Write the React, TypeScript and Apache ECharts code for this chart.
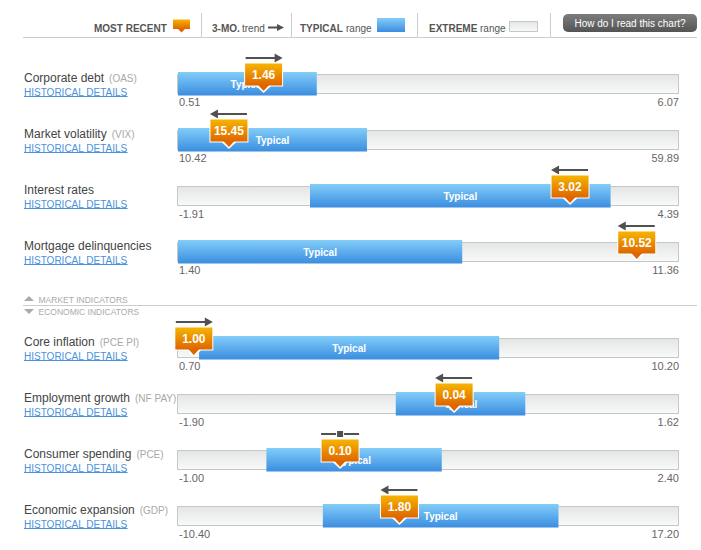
import React, { useEffect, useRef } from 'react';
import * as echarts from 'echarts';

const indicators = ['Corporate debt', 'Market volatility', 'Interest rates', 'Mortgage delinquencies', 'Core inflation', 'Employment growth', 'Consumer spending', 'Economic expansion'];
const codes = ['OAS', 'VIX', '', '', 'PCE PI', 'NF PAY', 'PCE', 'GDP'];
const extremeMin = [0.51, 10.42, -1.91, 1.40, 0.70, -1.90, -1.00, -10.40];
const extremeMax = [6.07, 59.89, 4.39, 11.36, 10.20, 1.62, 2.40, 17.20];
const typicalLow = [0.51, 10.42, -0.25, 1.40, 1.10, -0.37, -0.40, -2.42];
const typicalHigh = [2.05, 29.08, 3.53, 7.05, 6.79, 0.54, 0.79, 10.56];
const mostRecent = [1.46, 15.45, 3.02, 10.52, 1.00, 0.04, 0.10, 1.80];
const trend = ['up', 'down', 'down', 'down', 'up', 'down', 'flat', 'down'];
const sectionLabels = ['MARKET INDICATORS', 'ECONOMIC INDICATORS'];
const legendLabels = ['MOST RECENT', '3-MO.', 'trend', 'TYPICAL', 'range', 'EXTREME', 'range'];
const helpLabel = 'How do I read this chart?';
const linkLabel = 'HISTORICAL DETAILS';

const FONT = 'Arial, "Liberation Sans", Helvetica, sans-serif';
const rowTops = [72, 128, 184, 240, 336, 392, 448, 504];

const blueGrad = () => new echarts.graphic.LinearGradient(0, 0, 0, 1, [
  { offset: 0, color: '#82cdf8' },
  { offset: 1, color: '#3b8de0' },
]);
const greyGrad = () => new echarts.graphic.LinearGradient(0, 0, 0, 1, [
  { offset: 0, color: '#e4e5e5' },
  { offset: 0.5, color: '#eeefef' },
  { offset: 1, color: '#f8f9f9' },
]);
const orangeGrad = () => new echarts.graphic.LinearGradient(0, 0, 0, 1, [
  { offset: 0, color: '#f7b400' },
  { offset: 1, color: '#de6600' },
]);

function measure(text: string, font: string): number {
  const c = document.createElement('canvas').getContext('2d');
  if (!c) return text.length * 6;
  c.font = font;
  return c.measureText(text).width;
}

function makeRender(i: number) {
  return (params: any, api: any) => {
    const cs = params.coordSys;
    const top = cs.y;
    const lo = api.value(0);
    const hi = api.value(1);
    const rec = api.value(2);
    const mn = api.value(3);
    const mx = api.value(4);
    const xMin = api.coord([mn, 0])[0];
    const xMax = api.coord([mx, 0])[0];
    const xLo = api.coord([lo, 0])[0];
    const xHi = api.coord([hi, 0])[0];
    const xr = api.coord([rec, 0])[0];
    const children: any[] = [];
    children.push({
      type: 'rect',
      shape: { x: xMin - 0.5, y: top + 2.5, width: xMax - xMin, height: 19 },
      style: { fill: greyGrad(), stroke: '#c5c7c7', lineWidth: 1 },
    });
    children.push({
      type: 'rect',
      shape: { x: xLo, y: top, width: xHi - xLo, height: 23.5 },
      style: { fill: blueGrad() },
    });
    children.push({
      type: 'text',
      style: {
        text: 'Typical', x: (xLo + xHi) / 2, y: top + 12, align: 'center', verticalAlign: 'middle',
        fill: '#ffffff', fontSize: 10, fontWeight: 'bold', fontFamily: FONT,
      },
    });
    children.push({
      type: 'text',
      style: {
        text: mn.toFixed(2), x: xMin + 1, y: top + 30, align: 'left', verticalAlign: 'middle',
        fill: '#666666', fontSize: 11, fontFamily: FONT,
      },
    });
    children.push({
      type: 'text',
      style: {
        text: mx.toFixed(2), x: xMax, y: top + 30, align: 'right', verticalAlign: 'middle',
        fill: '#666666', fontSize: 11, fontFamily: FONT,
      },
    });
    // trend glyph
    const ay = top - 14;
    const t = trend[i];
    const ac = '#505050';
    if (t === 'up') {
      children.push({ type: 'line', shape: { x1: xr - 18, y1: ay, x2: xr + 12, y2: ay }, style: { stroke: ac, lineWidth: 2 } });
      children.push({ type: 'polygon', shape: { points: [[xr + 19, ay], [xr + 11, ay - 4.5], [xr + 11, ay + 4.5]] }, style: { fill: ac } });
    } else if (t === 'down') {
      children.push({ type: 'line', shape: { x1: xr - 12, y1: ay, x2: xr + 18, y2: ay }, style: { stroke: ac, lineWidth: 2 } });
      children.push({ type: 'polygon', shape: { points: [[xr - 19, ay], [xr - 11, ay - 4.5], [xr - 11, ay + 4.5]] }, style: { fill: ac } });
    } else {
      children.push({ type: 'line', shape: { x1: xr - 19, y1: ay, x2: xr - 4, y2: ay }, style: { stroke: ac, lineWidth: 2 } });
      children.push({ type: 'line', shape: { x1: xr + 4, y1: ay, x2: xr + 19, y2: ay }, style: { stroke: ac, lineWidth: 2 } });
      children.push({ type: 'rect', shape: { x: xr - 3, y: ay - 3, width: 6, height: 6 }, style: { fill: ac } });
    }
    // marker
    children.push({ type: 'rect', shape: { x: xr - 19.5, y: top - 9.5, width: 39, height: 24 }, style: { fill: '#ffffff' } });
    children.push({ type: 'polygon', shape: { points: [[xr - 7.5, top + 14], [xr + 7.5, top + 14], [xr, top + 21]] }, style: { fill: '#ffffff' } });
    children.push({ type: 'rect', shape: { x: xr - 18.5, y: top - 8.5, width: 37, height: 22 }, style: { fill: orangeGrad() } });
    children.push({ type: 'polygon', shape: { points: [[xr - 5.5, top + 13], [xr + 5.5, top + 13], [xr, top + 19]] }, style: { fill: '#de6600' } });
    children.push({
      type: 'text',
      style: {
        text: rec.toFixed(2), x: xr, y: top + 3, align: 'center', verticalAlign: 'middle',
        fill: '#ffffff', fontSize: 12, fontWeight: 'bold', fontFamily: FONT,
      },
    });
    return { type: 'group', children };
  };
}

function buildGraphic(): any[] {
  const g: any[] = [];
  const sepColor = '#cccccc';
  // header
  g.push({ type: 'line', shape: { x1: 23, y1: 37.5, x2: 697, y2: 37.5 }, style: { stroke: sepColor, lineWidth: 1 } });
  [201.5, 291.5, 417.5, 550.5].forEach((x) => {
    g.push({ type: 'line', shape: { x1: x, y1: 13, x2: x, y2: 37 }, style: { stroke: sepColor, lineWidth: 1 } });
  });
  const hb = { fill: '#555555', fontSize: 10, fontWeight: 'bold', fontFamily: FONT, verticalAlign: 'middle', align: 'left' };
  const hn = { fill: '#555555', fontSize: 10, fontFamily: FONT, verticalAlign: 'middle', align: 'left' };
  g.push({ type: 'text', style: { ...hb, text: legendLabels[0], x: 94, y: 28 } });
  g.push({ type: 'rect', shape: { x: 173, y: 19.5, width: 17, height: 9.5 }, style: { fill: orangeGrad() } });
  g.push({ type: 'polygon', shape: { points: [[178, 29], [185, 29], [181.5, 32.5]] }, style: { fill: '#de6600' } });
  g.push({ type: 'text', style: { ...hb, text: legendLabels[1], x: 212, y: 28 } });
  g.push({ type: 'text', style: { ...hn, text: legendLabels[2], x: 242, y: 28 } });
  g.push({ type: 'line', shape: { x1: 268, y1: 27.5, x2: 278, y2: 27.5 }, style: { stroke: '#505050', lineWidth: 2 } });
  g.push({ type: 'polygon', shape: { points: [[284, 27.5], [277, 24], [277, 31]] }, style: { fill: '#505050' } });
  g.push({ type: 'text', style: { ...hb, text: legendLabels[3], x: 300, y: 28 } });
  g.push({ type: 'text', style: { ...hn, text: legendLabels[4], x: 346, y: 28 } });
  g.push({ type: 'rect', shape: { x: 377, y: 18, width: 28, height: 14 }, style: { fill: blueGrad() } });
  g.push({ type: 'text', style: { ...hb, text: legendLabels[5], x: 429, y: 28 } });
  g.push({ type: 'text', style: { ...hn, text: legendLabels[6], x: 480, y: 28 } });
  g.push({ type: 'rect', shape: { x: 509.5, y: 21.5, width: 28, height: 10 }, style: { fill: greyGrad(), stroke: '#c5c7c7', lineWidth: 1 } });
  g.push({
    type: 'rect', shape: { x: 563, y: 14, width: 134, height: 18, r: 5 },
    style: { fill: new echarts.graphic.LinearGradient(0, 0, 0, 1, [{ offset: 0, color: '#7d7d7d' }, { offset: 1, color: '#545454' }]) },
  });
  g.push({ type: 'text', style: { text: helpLabel, x: 630, y: 23.5, align: 'center', verticalAlign: 'middle', fill: '#ffffff', fontSize: 10, fontFamily: FONT } });

  // row labels
  indicators.forEach((name, i) => {
    const top = rowTops[i];
    const nameFont = `12px ${FONT}`;
    const w = measure(name, nameFont);
    g.push({ type: 'text', style: { text: name, x: 24, y: top + 6, align: 'left', verticalAlign: 'middle', fill: '#444444', fontSize: 12, fontFamily: FONT } });
    if (codes[i]) {
      g.push({ type: 'text', style: { text: `(${codes[i]})`, x: 24 + w + 5, y: top + 6.5, align: 'left', verticalAlign: 'middle', fill: '#a8a8a8', fontSize: 10, fontFamily: FONT } });
    }
    const lw = measure(linkLabel, `10px ${FONT}`);
    g.push({ type: 'text', style: { text: linkLabel, x: 24, y: top + 20, align: 'left', verticalAlign: 'middle', fill: '#4a92dc', fontSize: 10, fontFamily: FONT } });
    g.push({ type: 'line', shape: { x1: 24, y1: top + 24.5, x2: 24 + lw, y2: top + 24.5 }, style: { stroke: '#4a92dc', lineWidth: 1 } });
  });

  // section separator
  g.push({ type: 'line', shape: { x1: 23, y1: 305.5, x2: 697, y2: 305.5 }, style: { stroke: sepColor, lineWidth: 1 } });
  g.push({ type: 'polygon', shape: { points: [[24, 301], [34, 301], [29, 296]] }, style: { fill: '#aaaaaa' } });
  g.push({ type: 'text', style: { text: sectionLabels[0], x: 38.5, y: 299.5, align: 'left', verticalAlign: 'middle', fill: '#aaaaaa', fontSize: 8.5, fontFamily: FONT } });
  g.push({ type: 'polygon', shape: { points: [[24, 309], [34, 309], [29, 314]] }, style: { fill: '#aaaaaa' } });
  g.push({ type: 'text', style: { text: sectionLabels[1], x: 38.5, y: 311.5, align: 'left', verticalAlign: 'middle', fill: '#aaaaaa', fontSize: 8.5, fontFamily: FONT } });
  return g;
}

export default function App() {
  const ref = useRef<HTMLDivElement>(null);
  useEffect(() => {
    if (!ref.current) return;
    const chart = echarts.init(ref.current, null, { renderer: 'svg' });
    const grids = rowTops.map((t) => ({ left: 178, width: 501, top: t, height: 23 }));
    const xAxes = indicators.map((_, i) => ({
      type: 'value', gridIndex: i, min: extremeMin[i], max: extremeMax[i], show: false,
    }));
    const yAxes = indicators.map((_, i) => ({
      type: 'category', gridIndex: i, data: [indicators[i]], show: false,
    }));
    const series = indicators.map((name, i) => ({
      type: 'custom',
      name,
      xAxisIndex: i,
      yAxisIndex: i,
      renderItem: makeRender(i),
      data: [[typicalLow[i], typicalHigh[i], mostRecent[i], extremeMin[i], extremeMax[i]]],
      silent: true,
    }));
    chart.setOption({
      animation: false,
      backgroundColor: '#ffffff',
      textStyle: { fontFamily: FONT },
      grid: grids,
      xAxis: xAxes,
      yAxis: yAxes,
      series,
      graphic: buildGraphic(),
    });
    return () => chart.dispose();
  }, []);
  return <div ref={ref} style={{ position: 'absolute', left: 0, top: 0, width: 701, height: 550 }} />;
}
